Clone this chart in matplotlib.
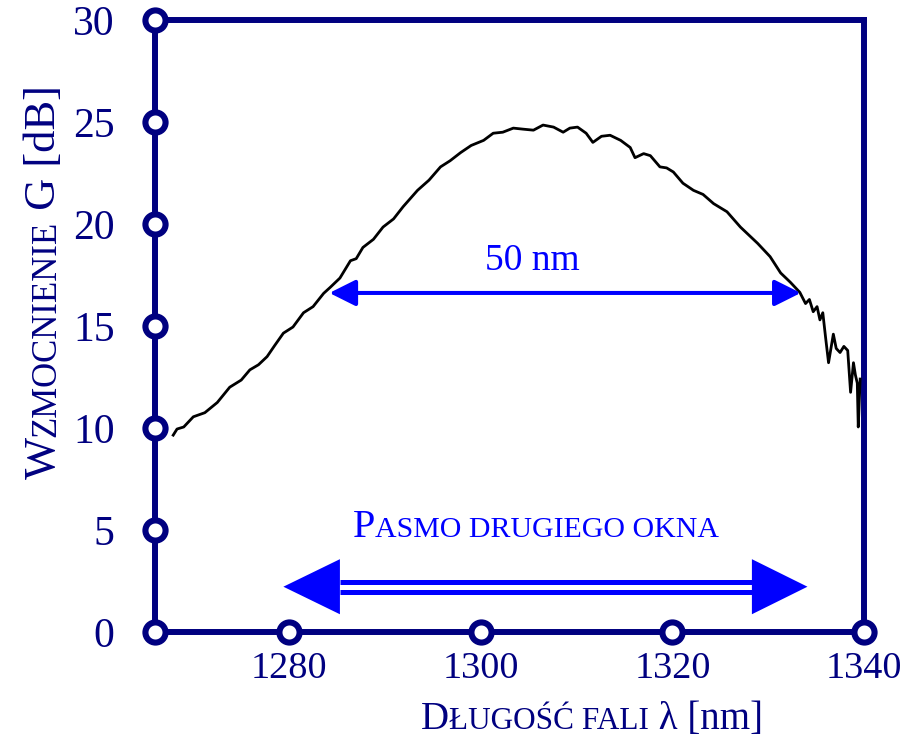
import matplotlib
matplotlib.use('Agg')
import matplotlib.pyplot as plt
from matplotlib.font_manager import FontProperties
from matplotlib.patches import Polygon, FancyArrowPatch

plt.rcParams['font.family'] = ['Liberation Serif', 'DejaVu Serif']

NAVY = '#000080'
BLUE = '#0000ff'

# wavelength [nm] and gain [dB]
wavelength = [1267.9, 1268.3, 1269.0, 1270.0, 1271.2, 1272.5, 1273.8, 1275.0, 1275.9, 1276.8,
              1277.7, 1278.5, 1279.4, 1280.4, 1281.5, 1282.5, 1283.6, 1284.3, 1285.3, 1286.4,
              1287.0, 1287.7, 1288.8, 1289.8, 1290.9, 1291.9, 1293.4, 1294.6, 1295.8, 1296.8,
              1297.9, 1299.0, 1300.3, 1301.3, 1302.3, 1303.4, 1304.4, 1305.5, 1306.5, 1307.6,
              1308.6, 1309.3, 1310.1, 1311.0, 1311.7, 1312.6, 1313.5, 1314.6, 1315.6, 1316.1,
              1317.0, 1317.7, 1318.7, 1319.4, 1320.1, 1321.1, 1322.2, 1323.2, 1324.3, 1325.7,
              1327.1, 1328.0, 1328.9, 1330.2, 1331.3, 1332.3, 1333.3, 1333.9, 1334.3, 1334.7,
              1335.1, 1335.4, 1335.7, 1336.0, 1336.3, 1336.8, 1337.1, 1337.5, 1337.9, 1338.3,
              1338.6, 1338.9, 1339.1, 1339.3, 1339.4, 1339.6]
gain = [9.65, 9.95, 10.05, 10.55, 10.75, 11.25, 12.0, 12.35, 12.85, 13.1,
        13.5, 14.05, 14.65, 14.95, 15.65, 15.95, 16.6, 16.9, 17.35, 18.2,
        18.3, 18.85, 19.25, 19.85, 20.25, 20.85, 21.65, 22.15, 22.8, 23.1,
        23.5, 23.85, 24.1, 24.45, 24.5, 24.7, 24.65, 24.6, 24.85, 24.75,
        24.5, 24.7, 24.75, 24.45, 24.0, 24.3, 24.35, 24.1, 23.75, 23.25,
        23.45, 23.35, 22.8, 22.75, 22.55, 22.0, 21.65, 21.45, 21.0, 20.6,
        19.85, 19.45, 19.05, 18.4, 17.6, 17.15, 16.65, 16.1, 16.3, 15.7,
        15.95, 15.3, 15.65, 14.4, 13.2, 14.6, 13.9, 13.7, 14.0, 13.8,
        11.75, 13.2, 12.6, 12.2, 10.05, 12.4]

xticks = [1280, 1300, 1320, 1340]
yticks = [0, 5, 10, 15, 20, 25, 30]
xlim = (1266.0, 1340.0)
ylim = (0, 30)

# 3 dB bandwidth arrow and second-window band
bw_start, bw_end, bw_level = 1284.2, 1333.4, 16.62
band_tip_l, band_base_l = 1279.4, 1285.3
band_base_r, band_tip_r = 1328.3, 1334.1
band_mid, band_half, band_lines = 2.22, 1.35, (2.47, 1.94)

W, H = 910, 741
fig = plt.figure(figsize=(W / 100, H / 100), dpi=100)
ax = fig.add_axes([155 / W, 1 - 632 / H, (864 - 155) / W, (632 - 20) / H])

ax.plot(wavelength, gain, color='black', lw=2.0, zorder=3)

ax.set_xlim(*xlim)
ax.set_ylim(*ylim)
ax.set_xticks(xticks)
ax.set_yticks(yticks)
ax.tick_params(axis='both', length=0, colors=NAVY)
ax.tick_params(axis='y', labelsize=30, pad=29)
ax.tick_params(axis='x', labelsize=27.5, pad=14)
for sp in ax.spines.values():
    sp.set_color(NAVY)
    sp.set_linewidth(4.3)

mk = dict(marker='o', ms=14.5, mfc='white', mec=NAVY, mew=4.4, ls='none', clip_on=False, zorder=5)
ax.plot(xticks, [ylim[0]] * len(xticks), **mk)
ax.plot([xlim[0]] * len(yticks), yticks, **mk)

# 50 nm arrow
arr = FancyArrowPatch((bw_start, bw_level), (bw_end, bw_level),
                      arrowstyle='<|-|>,head_length=16,head_width=8', mutation_scale=1,
                      color=BLUE, lw=2.9, shrinkA=0, shrinkB=0, zorder=4)
ax.add_patch(arr)
ax.text(1305.4, 17.75, '50 nm', ha='center', va='baseline', color=BLUE, fontsize=27)

# double-line band arrow
for yl in band_lines:
    ax.plot([band_base_l, band_base_r], [yl, yl], color=BLUE, lw=3.6, solid_capstyle='butt')
ax.add_patch(Polygon([(band_tip_l, band_mid), (band_base_l, band_mid + band_half),
                      (band_base_l, band_mid - band_half)], closed=True, color=BLUE, lw=0))
ax.add_patch(Polygon([(band_tip_r, band_mid), (band_base_r, band_mid + band_half),
                      (band_base_r, band_mid - band_half)], closed=True, color=BLUE, lw=0))

renderer = fig.canvas.get_renderer()


def advance(s, size):
    prop = FontProperties(family='Liberation Serif', size=size)
    w1 = renderer.get_text_width_height_descent(s + 'I', prop, ismath=False)[0]
    w0 = renderer.get_text_width_height_descent('I', prop, ismath=False)[0]
    return w1 - w0


def caps_text(cx, cy, parts, color, vertical=False):
    # cx, cy: pixel centre along the baseline (from top-left)
    adv = [advance(s, sz) for s, sz in parts]
    total = sum(adv)
    pos = -total / 2
    for (s, sz), a in zip(parts, adv):
        if vertical:
            x, y = cx, cy - pos
        else:
            x, y = cx + pos, cy
        fig.text(x / W, 1 - y / H, s, fontsize=sz, color=color, ha='left', va='baseline',
                 rotation=90 if vertical else 0, rotation_mode='anchor')
        pos += a


caps_text(55, 282, [('W', 32), ('ZMOCNIENIE', 25), (' G [dB]', 32)], NAVY, vertical=True)
caps_text(592, 729, [('D', 28), ('ŁUGOŚĆ FALI', 22.5), (' λ [nm]', 28)], NAVY)
caps_text(536, 537, [('P', 29), ('ASMO DRUGIEGO OKNA', 21.5)], BLUE)

fig.savefig('out.png', dpi=100)
